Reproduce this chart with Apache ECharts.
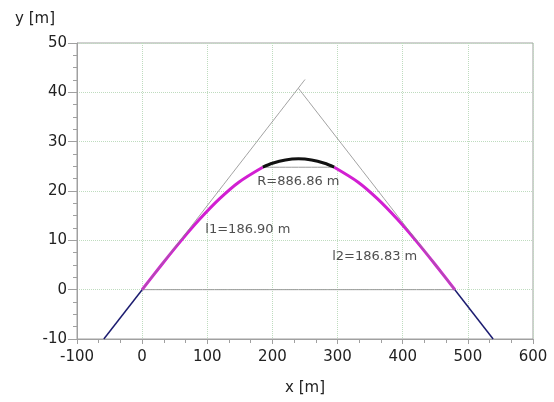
<!DOCTYPE html>
<html>
<head>
<meta charset="utf-8">
<script src="https://cdn.jsdelivr.net/npm/echarts@6/dist/echarts.min.js"></script>
<style>html,body{margin:0;padding:0;background:#fff}#c{width:554px;height:402px}</style>
</head>
<body>
<div id="c"></div>
<script>
// Data
var straightLeft  = [[-58.8, -10], [0, 0]];
var spiral1       = [[0, 0], [29.58, 5.00], [59.19, 9.84], [88.85, 14.36], [118.57, 18.40], [148.38, 21.79], [185.15, 24.82]];
var arcPts        = [[185.15, 24.82], [200, 25.62], [220, 26.29], [240, 26.52], [260, 26.29], [280, 25.62], [294.85, 24.82]];
var spiral2       = [[294.85, 24.82], [331.62, 21.79], [361.43, 18.40], [391.15, 14.36], [420.81, 9.84], [450.42, 5.00], [480, 0]];
var straightRight = [[480, 0], [538.8, -10]];
var tangentLeft   = [[0, 0], [250, 42.6]];
var tangentRight  = [[240, 40.8], [480, 0]];
var chordMain     = [[0, 0], [480, 0]];
var chordArc      = [[185.15, 24.82], [294.85, 24.82]];
var labelPts      = [[176.8, 21.8, 'R=886.86 m'], [97, 12.1, 'l1=186.90 m'], [291.7, 6.6, 'l2=186.83 m']];
var xRange = [-100, 600, 100];
var yRange = [-10, 50, 10];

var FONT = 'DejaVu Sans';
var chart = echarts.init(document.getElementById('c'), null, {renderer: 'canvas'});

function lineSeries(data, color, width, z) {
  return {type: 'line', data: data, symbol: 'none', smooth: 0.3, z: z,
    lineStyle: {color: color, width: width}, silent: true, animation: false};
}

chart.setOption({
  animation: false,
  grid: {left: 77, right: 21, top: 43, bottom: 63, show: true, borderColor: '#a0a0a0', borderWidth: 1},
  xAxis: {
    type: 'value', min: xRange[0], max: xRange[1], interval: xRange[2],
    name: 'x [m]', nameLocation: 'middle', nameGap: 42,
    nameTextStyle: {fontFamily: FONT, fontSize: 15, color: '#222'},
    axisLine: {onZero: false, lineStyle: {color: '#a0a0a0'}},
    axisTick: {show: true, length: 5, lineStyle: {color: '#a0a0a0'}},
    minorTick: {show: true, splitNumber: 3, length: 4, lineStyle: {color: '#a0a0a0'}},
    axisLabel: {fontFamily: FONT, fontSize: 15, color: '#222', margin: 11},
    splitLine: {show: true, lineStyle: {color: '#bfdcbf', type: 'dotted', width: 1}}
  },
  yAxis: {
    type: 'value', min: yRange[0], max: yRange[1], interval: yRange[2],
    name: 'y [m]', nameLocation: 'end', nameGap: 16,
    nameTextStyle: {fontFamily: FONT, fontSize: 15, color: '#222', align: 'right', padding: [0, 22, 0, 0]},
    axisLine: {show: true, onZero: false, lineStyle: {color: '#a0a0a0'}},
    axisTick: {show: true, length: 9, lineStyle: {color: '#a0a0a0'}},
    minorTick: {show: true, splitNumber: 4, length: 4, lineStyle: {color: '#a0a0a0'}},
    axisLabel: {fontFamily: FONT, fontSize: 15, color: '#222', margin: 10},
    splitLine: {show: true, lineStyle: {color: '#bfdcbf', type: 'dotted', width: 1}}
  },
  series: [
    lineSeries(chordMain, '#9a9a9a', 1, 2),
    lineSeries(chordArc, '#9a9a9a', 1, 2),
    lineSeries(straightLeft, '#1c1c70', 1.5, 3),
    lineSeries(straightRight, '#1c1c70', 1.5, 3),
    lineSeries(spiral1, '#d21fd2', 3, 4),
    lineSeries(spiral2, '#d21fd2', 3, 4),
    lineSeries(arcPts, '#111111', 3, 5),
    lineSeries(tangentLeft, '#8a8a8a', 0.8, 6),
    lineSeries(tangentRight, '#8a8a8a', 0.8, 6),
    {
      type: 'scatter', symbolSize: 0, z: 7, silent: true,
      data: labelPts.map(function (p) { return {value: [p[0], p[1]], name: p[2]}; }),
      label: {show: true, position: 'right', distance: 0, formatter: '{b}',
        fontFamily: FONT, fontSize: 13, color: '#222'}
    }
  ]
});
</script>
</body>
</html>
